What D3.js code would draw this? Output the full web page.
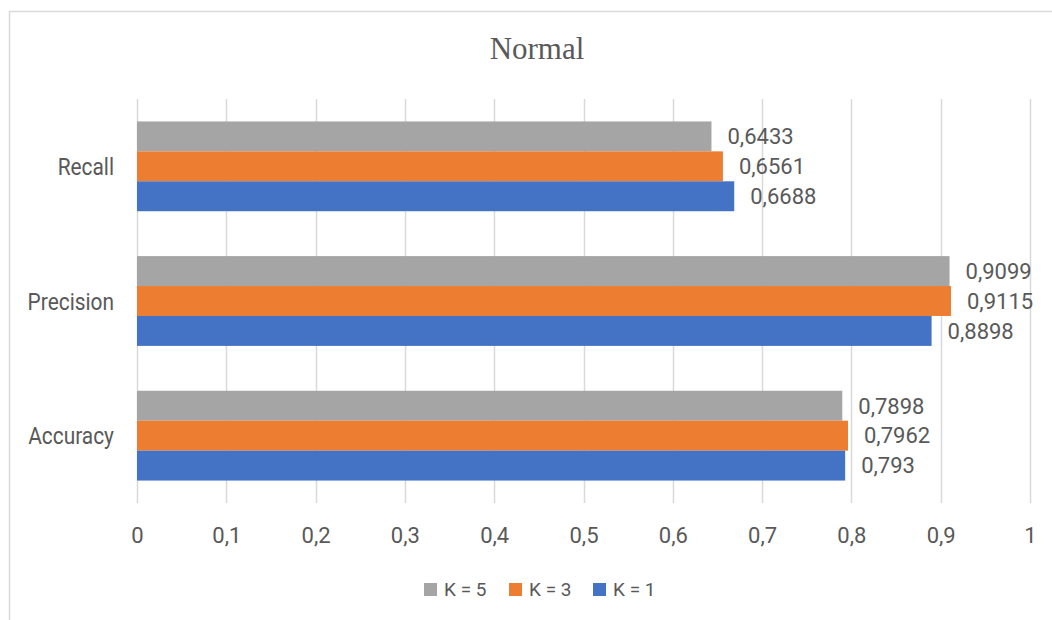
<!DOCTYPE html>
<html>
<head>
<meta charset="utf-8">
<script src="https://cdn.jsdelivr.net/npm/d3@7"></script>
<style>
  html, body { margin: 0; padding: 0; background: #fff; }
  svg { display: block; }
</style>
</head>
<body>
<svg id="chart" width="1052" height="620"></svg>
<script>
// Metrics per category, one array per K value
const categories = ["Recall", "Precision", "Accuracy"];
const seriesNames = ["K = 5", "K = 3", "K = 1"];
const k5Values = [0.6433, 0.9099, 0.7898];
const k3Values = [0.6561, 0.9115, 0.7962];
const k1Values = [0.6688, 0.8898, 0.793];
const tickValues = [0, 0.1, 0.2, 0.3, 0.4, 0.5, 0.6, 0.7, 0.8, 0.9, 1];
const seriesColors = ["#A5A5A5", "#ED7D31", "#4472C4"];
const titleText = "Normal";

const seriesValues = [k5Values, k3Values, k1Values];
const fmt = v => String(v).replace(".", ",");

const svg = d3.select("#chart");
const textColor = "#595959";
const gridColor = "#D9D9D9";

// Chart area frame (top and left edges fall inside the view)
svg.append("rect")
  .attr("x", 9.5).attr("y", 11.5)
  .attr("width", 1100).attr("height", 700)
  .attr("fill", "none")
  .attr("stroke", gridColor)
  .attr("stroke-width", 1.5);

// Title
svg.append("text")
  .attr("x", 537).attr("y", 59)
  .attr("text-anchor", "middle")
  .attr("font-family", "Liberation Serif, Times New Roman, serif")
  .attr("font-size", 31)
  .attr("fill", textColor)
  .text(titleText);

const plot = { left: 137, right: 1030, top: 99, bottom: 503 };

const x = d3.scaleLinear().domain([0, 1]).range([plot.left, plot.right]);
const y = d3.scaleBand().domain(categories)
  .range([plot.top, plot.bottom])
  .paddingInner(1 / 3).paddingOuter(1 / 6);
const ySeries = d3.scaleBand().domain(seriesNames).range([0, y.bandwidth()]);

// Vertical gridlines
svg.append("g").selectAll("line")
  .data(tickValues)
  .join("line")
  .attr("x1", d => Math.round(x(d)) + 0.5)
  .attr("x2", d => Math.round(x(d)) + 0.5)
  .attr("y1", plot.top).attr("y2", plot.bottom)
  .attr("stroke", gridColor)
  .attr("stroke-width", 1.5);

// X axis tick labels
const xAxis = d3.axisBottom(x).tickValues(tickValues).tickFormat(fmt).tickSize(0).tickPadding(0);
const gx = svg.append("g").attr("transform", `translate(0,${plot.bottom})`).call(xAxis);
gx.select(".domain").remove();
gx.selectAll("text")
  .attr("y", 40).attr("dy", null)
  .attr("font-family", "Roboto, sans-serif")
  .attr("font-size", 22)
  .attr("fill", textColor);

// Category labels
const yAxis = d3.axisLeft(y).tickSize(0).tickPadding(0);
const gy = svg.append("g").attr("transform", `translate(114,0)`).call(yAxis);
gy.select(".domain").remove();
gy.selectAll(".tick text")
  .attr("x", 0).attr("dy", null).attr("y", 8.5)
  .attr("font-family", "Roboto, sans-serif")
  .attr("font-size", 24)
  .attr("fill", textColor)
  .attr("transform", "scale(0.87,1)");

// Bars
const rows = categories.map((c, i) => ({
  category: c,
  items: seriesNames.map((s, j) => ({ series: s, value: seriesValues[j][i], color: seriesColors[j] }))
}));

const groups = svg.append("g").selectAll("g")
  .data(rows)
  .join("g")
  .attr("transform", d => `translate(0,${y(d.category)})`);

groups.selectAll("rect")
  .data(d => d.items)
  .join("rect")
  .attr("x", x(0))
  .attr("y", d => ySeries(d.series))
  .attr("width", d => x(d.value) - x(0))
  .attr("height", ySeries.bandwidth())
  .attr("fill", d => d.color);

// Value labels at the bar ends
groups.selectAll("text")
  .data(d => d.items)
  .join("text")
  .attr("x", d => x(d.value) + 16)
  .attr("y", d => ySeries(d.series) + ySeries.bandwidth() / 2 + 7.8)
  .attr("font-family", "Roboto, sans-serif")
  .attr("font-size", 22)
  .attr("fill", textColor)
  .text(d => fmt(d.value));

// Legend
const legendX = [424, 509, 593];
const legend = svg.append("g").selectAll("g")
  .data(seriesNames)
  .join("g")
  .attr("transform", (d, i) => `translate(${legendX[i]},583)`);
legend.append("rect")
  .attr("width", 13).attr("height", 13)
  .attr("fill", (d, i) => seriesColors[i]);
legend.append("text")
  .attr("x", 20).attr("y", 13)
  .attr("font-family", "Roboto, sans-serif")
  .attr("font-size", 19)
  .attr("fill", textColor)
  .text(d => d);
</script>
</body>
</html>
